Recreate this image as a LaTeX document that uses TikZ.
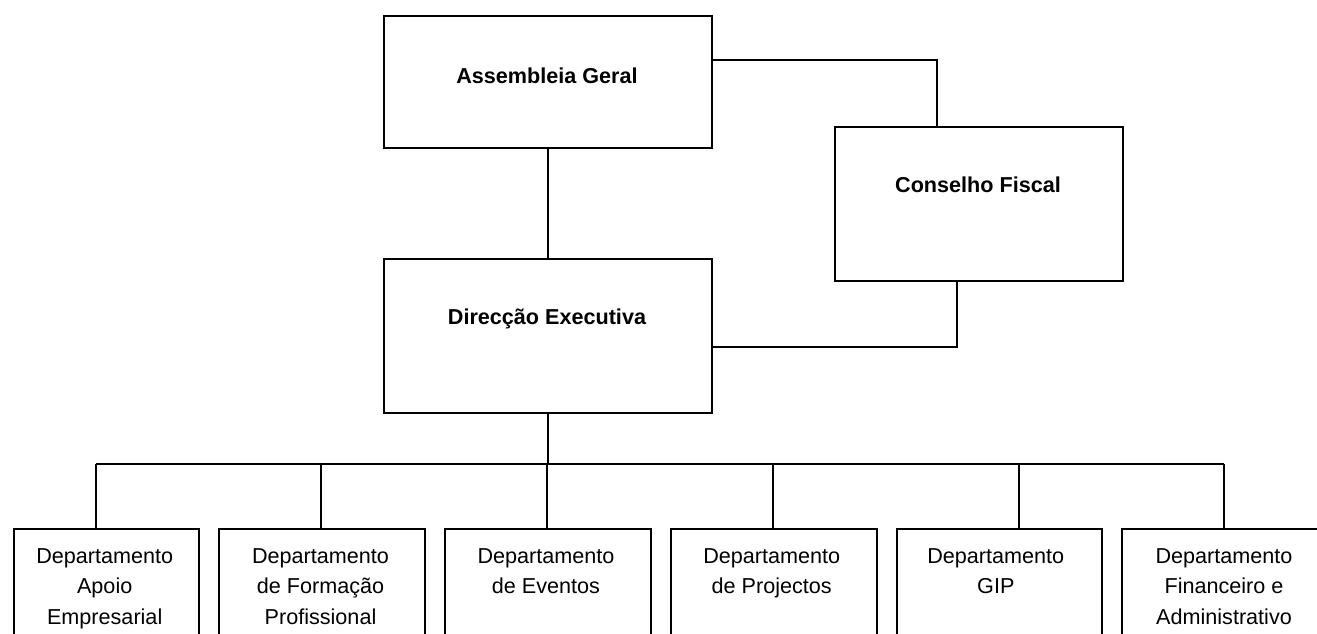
\documentclass[tikz,border=0pt]{standalone}
\usepackage{fontspec}
\setmainfont{Liberation Sans}
\usetikzlibrary{calc}
\begin{document}
\begin{tikzpicture}[x=1pt,y=-1pt,
  line width=1.8pt,
  boxnode/.style={draw=black,rectangle,inner sep=0pt,anchor=north west},
  toplabel/.style={font=\fontsize{21.6}{26}\selectfont\bfseries,anchor=base,inner sep=0pt},
  deptlabel/.style={font=\fontsize{21.6}{30.5}\selectfont,align=center,anchor=north,inner sep=0pt},
  conn/.style={draw=black,line width=1.8pt}]
\useasboundingbox (0,0) rectangle (1317,633);
\clip (0,0) rectangle (1317,633);
\fill[white] (0,0) rectangle (1317,633);
% top boxes
\node[boxnode,minimum width=328pt,minimum height=132pt] (ag) at (383,15) {};
\node[boxnode,minimum width=288pt,minimum height=154pt] (cf) at (834,126) {};
\node[boxnode,minimum width=328pt,minimum height=154pt] (de) at (383,258) {};
\node[toplabel] (agt) at (547,83) {Assembleia Geral};
\node[toplabel] (cft) at (978,192.7) {Conselho Fiscal};
\node[toplabel] (det) at (547,324.3) {Direcção Executiva};
% department boxes
\node[boxnode,minimum width=185pt,minimum height=140pt] (d1) at (13,528) {};
\node[boxnode,minimum width=206pt,minimum height=140pt] (d2) at (218,528) {};
\node[boxnode,minimum width=206pt,minimum height=140pt] (d3) at (444,528) {};
\node[boxnode,minimum width=206pt,minimum height=140pt] (d4) at (670,528) {};
\node[boxnode,minimum width=205pt,minimum height=140pt] (d5) at (896,528) {};
\node[boxnode,minimum width=206pt,minimum height=140pt] (d6) at (1121,528) {};
\node[deptlabel] (d1t) at (104.7,547.5) {Departamento\\Apoio\\Empresarial};
\node[deptlabel] (d2t) at (320.5,547.5) {Departamento\\de Formação\\Profissional};
\node[deptlabel] (d3t) at (546,547.5) {Departamento\\de Eventos};
\node[deptlabel] (d4t) at (771.7,547.5) {Departamento\\de Projectos};
\node[deptlabel] (d5t) at (995.8,547.5) {Departamento\\GIP};
\node[deptlabel] (d6t) at (1224,547.5) {Departamento\\Financeiro e\\Administrativo};
% connectors
\draw[conn] ($(ag.north east)+(0,45)$) -| ($(cf.north west)+(103,0)$);
\draw[conn] (ag.south) -- (de.north);
\draw[conn] ($(cf.south west)+(123,0)$) |- ($(de.east)+(0,11)$);
\coordinate (bus) at ($(de.south)+(0,50)$);
\draw[conn] (de.south) -- (bus);
\coordinate (p1) at ($(d1.north west)+(82.7,0)$);
\coordinate (p2) at ($(d2.north west)+(103,0)$);
\coordinate (p3) at ($(d3.north west)+(103,0)$);
\coordinate (p4) at ($(d4.north west)+(102.7,0)$);
\coordinate (p5) at ($(d5.north west)+(123,0)$);
\coordinate (p6) at ($(d6.north west)+(103,0)$);
\draw[conn] (p1 |- bus) -- (p6 |- bus);
\foreach \p in {p1,p2,p3,p4,p5,p6} {
  \draw[conn] (\p) -- (\p |- bus);
}
\end{tikzpicture}
\end{document}
